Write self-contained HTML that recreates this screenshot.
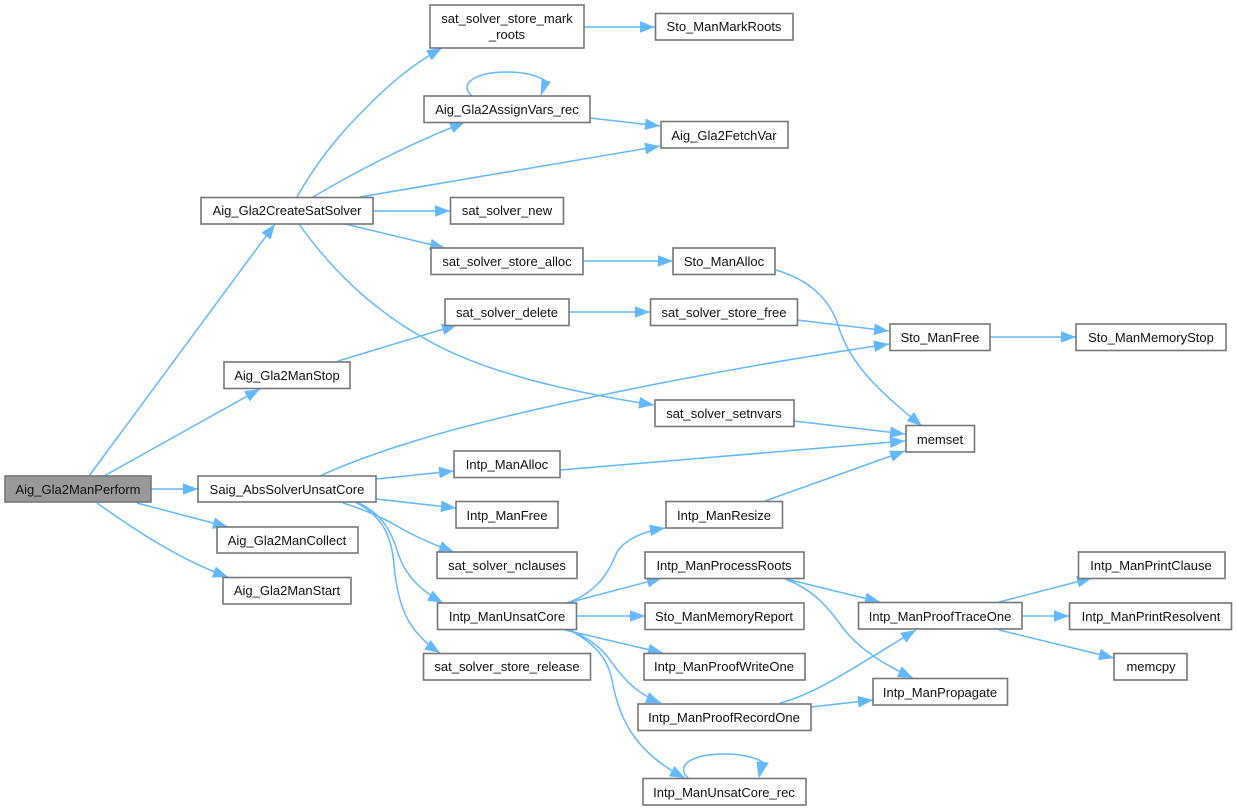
<!DOCTYPE html>
<html><head><meta charset="utf-8"><title>Aig_Gla2ManPerform call graph</title>
<style>
html,body{margin:0;padding:0;background:#fff;width:1237px;height:811px;overflow:hidden}
svg{display:block}
rect{fill:#fff;stroke:#777;stroke-width:1.6}
rect.r{fill:#999}
path.e{fill:none;stroke:#63b8ff;stroke-width:1.5}
polygon{fill:#63b8ff;stroke:#63b8ff;stroke-width:1}
text{font-family:"Liberation Sans",Arial,sans-serif;font-size:13px;fill:#111;text-anchor:middle}
</style></head><body>
<svg width="1237" height="811" viewBox="0 0 1237 811" xmlns="http://www.w3.org/2000/svg">
<defs><marker id="a" markerUnits="userSpaceOnUse" markerWidth="18" markerHeight="14" viewBox="0 0 18 14" refX="16" refY="7" orient="auto"><path d="M1,1.200 L16,7 L1,12.800 Z" fill="#63b8ff"/></marker></defs>
<path class="e" marker-end="url(#a)" d="M89,476 L275,224"/>
<path class="e" marker-end="url(#a)" d="M104,476 L260,389"/>
<path class="e" marker-end="url(#a)" d="M151,489 L198,489"/>
<path class="e" marker-end="url(#a)" d="M137,503 L228,527"/>
<path class="e" marker-end="url(#a)" d="M97,503 C135,530 180,560 228,577"/>
<path class="e" marker-end="url(#a)" d="M297,197 C316,163 340,133 367,107 C390,83 415,63 442,48"/>
<path class="e" marker-end="url(#a)" d="M584,27 L655,27"/>
<path class="e" marker-end="url(#a)" d="M313,197 C345,178 400,148 465,122"/>
<path class="e" marker-end="url(#a)" d="M590,118 L660,126"/>
<path class="e" marker-end="url(#a)" d="M360,197 L660,146"/>
<path class="e" marker-end="url(#a)" d="M373,211 L450,211"/>
<path class="e" marker-end="url(#a)" d="M345,224 L445,248"/>
<path class="e" marker-end="url(#a)" d="M299,224 C340,282 385,316 422,337 C480,372 570,392 654,405"/>
<path class="e" marker-end="url(#a)" d="M583,261 L673,261"/>
<path class="e" marker-end="url(#a)" d="M776,270 C810,280 830,300 838,325 C850,365 880,392 922,426"/>
<path class="e" marker-end="url(#a)" d="M338,361 L457,325"/>
<path class="e" marker-end="url(#a)" d="M569,312 L650,312"/>
<path class="e" marker-end="url(#a)" d="M797,320 L889,331"/>
<path class="e" marker-end="url(#a)" d="M990,337 L1076,337"/>
<path class="e" marker-end="url(#a)" d="M320,476 C350,462 385,450 418,440 C500,415 680,375 889,344"/>
<path class="e" marker-end="url(#a)" d="M794,421 L905,434"/>
<path class="e" marker-end="url(#a)" d="M376,479 L454,471"/>
<path class="e" marker-end="url(#a)" d="M560,470 L905,441"/>
<path class="e" marker-end="url(#a)" d="M376,499 L456,508"/>
<path class="e" marker-end="url(#a)" d="M343,503 C365,510 385,519 397,526 C415,537 435,545 454,552"/>
<path class="e" marker-end="url(#a)" d="M357,502 C385,515 392,535 398,553 C405,575 420,590 443,603"/>
<path class="e" marker-end="url(#a)" d="M355,502 C385,517 392,540 394,565 C398,610 410,633 440,653"/>
<path class="e" marker-end="url(#a)" d="M567,603 C595,593 608,575 617,552 C625,540 640,532 665,528"/>
<path class="e" marker-end="url(#a)" d="M567,603 L662,578"/>
<path class="e" marker-end="url(#a)" d="M577,616 L645,616"/>
<path class="e" marker-end="url(#a)" d="M565,630 L663,653"/>
<path class="e" marker-end="url(#a)" d="M567,629 C590,638 603,650 610,660 C625,682 640,695 661,703"/>
<path class="e" marker-end="url(#a)" d="M567,629 C590,640 607,655 612,680 C620,725 640,755 685,778"/>
<path class="e" marker-end="url(#a)" d="M765,501 L905,451"/>
<path class="e" marker-end="url(#a)" d="M786,579 L880,602"/>
<path class="e" marker-end="url(#a)" d="M785,579 C815,590 830,610 843,628 C860,650 885,665 913,678"/>
<path class="e" marker-end="url(#a)" d="M780,703 C815,694 850,670 916,630"/>
<path class="e" marker-end="url(#a)" d="M811,707 L873,700"/>
<path class="e" marker-end="url(#a)" d="M999,602 L1092,578"/>
<path class="e" marker-end="url(#a)" d="M1023,616 L1069,616"/>
<path class="e" marker-end="url(#a)" d="M999,630 L1114,658"/>
<path class="e" d="M472,96 C458,84 475,72 507,72 C525,72 538,76 546,81"/>
<polygon points="550,82 542,80 541,95"/>
<path class="e" d="M688,778 C675,765 692,754 725,754 C743,754 757,758 764,763"/>
<polygon points="768,763 757,762 759,777"/>

<rect class="r" x="5" y="476" width="146" height="26"/><text x="78" y="494">Aig_Gla2ManPerform</text>
<rect x="201" y="197.500" width="172" height="26.500"/><text x="287" y="215">Aig_Gla2CreateSatSolver</text>
<rect x="224" y="362" width="126" height="26.500"/><text x="287" y="380">Aig_Gla2ManStop</text>
<rect x="198" y="476" width="178" height="26"/><text x="287" y="494">Saig_AbsSolverUnsatCore</text>
<rect x="217" y="527" width="141" height="26"/><text x="287" y="545">Aig_Gla2ManCollect</text>
<rect x="223" y="577.500" width="128" height="26.500"/><text x="287" y="595">Aig_Gla2ManStart</text>
<rect x="430" y="5" width="154" height="43"/><text x="507" y="23">sat_solver_store_mark</text><text x="507" y="39">_roots</text>
<rect x="424" y="96" width="166" height="26.500"/><text x="507" y="114">Aig_Gla2AssignVars_rec</text>
<rect x="450.500" y="197.500" width="113" height="26.500"/><text x="507" y="215">sat_solver_new</text>
<rect x="431" y="248" width="152" height="26.500"/><text x="507" y="266">sat_solver_store_alloc</text>
<rect x="445" y="299" width="124" height="26.500"/><text x="507" y="317">sat_solver_delete</text>
<rect x="454" y="451" width="106" height="26.500"/><text x="507" y="469">Intp_ManAlloc</text>
<rect x="456" y="501.500" width="102" height="26.500"/><text x="507" y="520">Intp_ManFree</text>
<rect x="437" y="552" width="140" height="26.500"/><text x="507" y="570">sat_solver_nclauses</text>
<rect x="437.500" y="603" width="139" height="26.500"/><text x="507" y="621">Intp_ManUnsatCore</text>
<rect x="423.500" y="653.500" width="167" height="26.500"/><text x="507" y="671">sat_solver_store_release</text>
<rect x="655.500" y="13.500" width="137.500" height="26.500"/><text x="724" y="31">Sto_ManMarkRoots</text>
<rect x="661" y="121.500" width="127" height="26.500"/><text x="724" y="140">Aig_Gla2FetchVar</text>
<rect x="673" y="248" width="102" height="26.500"/><text x="724" y="266">Sto_ManAlloc</text>
<rect x="650.500" y="299" width="147" height="26.500"/><text x="724" y="317">sat_solver_store_free</text>
<rect x="655" y="400" width="139" height="26.500"/><text x="724" y="418">sat_solver_setnvars</text>
<rect x="666" y="501.500" width="116.500" height="26.500"/><text x="724" y="520">Intp_ManResize</text>
<rect x="645" y="552" width="159" height="26.500"/><text x="724" y="570">Intp_ManProcessRoots</text>
<rect x="645" y="603" width="159" height="26.500"/><text x="724" y="621">Sto_ManMemoryReport</text>
<rect x="644" y="653.500" width="161" height="26.500"/><text x="724" y="671">Intp_ManProofWriteOne</text>
<rect x="638" y="704" width="173" height="26.500"/><text x="724" y="722">Intp_ManProofRecordOne</text>
<rect x="643" y="778.500" width="163" height="26.500"/><text x="724" y="797">Intp_ManUnsatCore_rec</text>
<rect x="890" y="324" width="100" height="26.500"/><text x="940" y="342">Sto_ManFree</text>
<rect x="906" y="425.500" width="68.500" height="26.500"/><text x="940" y="444">memset</text>
<rect x="858.500" y="602.500" width="163.500" height="26.500"/><text x="940" y="621">Intp_ManProofTraceOne</text>
<rect x="873" y="678.500" width="134.500" height="26.500"/><text x="940" y="697">Intp_ManPropagate</text>
<rect x="1076" y="324" width="150" height="26.500"/><text x="1151" y="342">Sto_ManMemoryStop</text>
<rect x="1078.500" y="552" width="146.500" height="26.500"/><text x="1151" y="570">Intp_ManPrintClause</text>
<rect x="1069.500" y="603" width="162" height="26.500"/><text x="1151" y="621">Intp_ManPrintResolvent</text>
<rect x="1114" y="653.500" width="73" height="26.500"/><text x="1151" y="671">memcpy</text>
</svg>
</body></html>
